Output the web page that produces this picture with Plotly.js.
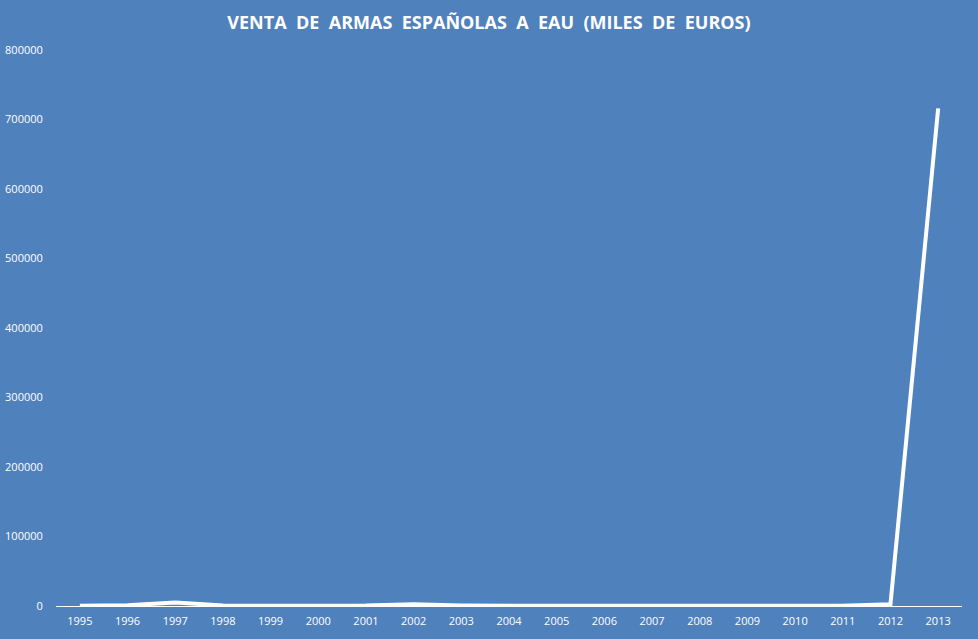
<!DOCTYPE html>
<html>
<head>
<meta charset="utf-8">
<script src="https://cdn.plot.ly/plotly-3.0.1.min.js"></script>
<style>
  html, body { margin: 0; padding: 0; background: #4f81bd; }
  #chart { width: 978px; height: 639px; }
</style>
</head>
<body>
<div id="chart"></div>
<script>
// ventas de armas a EAU, miles de euros
var years = ['1995', '1996', '1997', '1998', '1999', '2000', '2001', '2002', '2003', '2004',
             '2005', '2006', '2007', '2008', '2009', '2010', '2011', '2012', '2013'];
var ventas = [500, 1000, 5000, 800, 300, 400, 700, 2500, 600, 200,
              300, 300, 300, 300, 300, 300, 500, 2500, 716000];
var yTicks = [0, 100000, 200000, 300000, 400000, 500000, 600000, 700000, 800000];

var trace = {
  x: years,
  y: ventas,
  type: 'scatter',
  mode: 'lines',
  line: { color: '#ffffff', width: 4 },
  hoverinfo: 'x+y'
};

var layout = {
  width: 978,
  height: 639,
  paper_bgcolor: '#4f81bd',
  plot_bgcolor: '#4f81bd',
  margin: { l: 56, r: 16, t: 50, b: 33 },
  showlegend: false,
  title: {
    text: '<b>VENTA  DE  ARMAS  ESPAÑOLAS  A  EAU  (MILES  DE  EUROS)</b>',
    font: { family: 'Open Sans, sans-serif', size: 18, color: '#ffffff' },
    x: 0.5, xanchor: 'center', y: 0.965, yanchor: 'middle'
  },
  xaxis: {
    type: 'category',
    range: [-0.5, 18.5],
    showgrid: false,
    zeroline: false,
    showline: true,
    linecolor: '#ffffff',
    linewidth: 1,
    ticks: 'outside',
    ticklen: 5,
    tickcolor: 'rgba(0,0,0,0)',
    tickfont: { family: 'Open Sans, sans-serif', size: 11, color: '#ffffff' }
  },
  yaxis: {
    range: [0, 800000],
    tickvals: yTicks,
    ticktext: yTicks.map(String),
    showgrid: false,
    zeroline: false,
    showline: false,
    ticks: 'outside',
    ticklen: 10,
    tickcolor: 'rgba(0,0,0,0)',
    tickfont: { family: 'Open Sans, sans-serif', size: 11, color: '#ffffff' }
  }
};

Plotly.newPlot('chart', [trace], layout, { displayModeBar: false, staticPlot: true });
</script>
</body>
</html>
